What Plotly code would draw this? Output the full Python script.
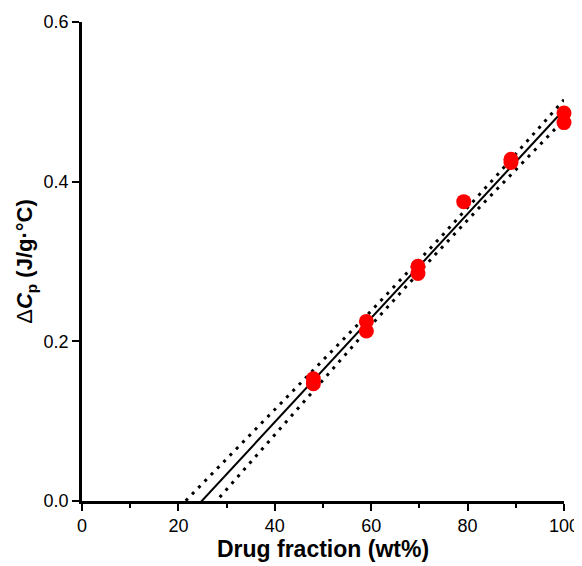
import numpy as np
import plotly.graph_objects as go

# measured points
drug_fraction = [48, 48, 59, 59, 69.7, 69.7, 79.2, 89, 89, 100, 100]
delta_cp = [0.153, 0.147, 0.225, 0.213, 0.294, 0.285, 0.375, 0.428, 0.424, 0.486, 0.474]

x_ticks = [0, 20, 40, 60, 80, 100]
y_ticks = [0.0, 0.2, 0.4, 0.6]

# linear fit with 95% confidence band
x = np.array(drug_fraction)
y = np.array(delta_cp)
n = len(x)
slope, intercept = np.polyfit(x, y, 1)
resid = y - (slope * x + intercept)
s = np.sqrt(np.sum(resid ** 2) / (n - 2))
sxx = np.sum((x - x.mean()) ** 2)
t_val = 2.262  # t(0.975, df=9)

xf = np.linspace(15, 100, 200)
yf = slope * xf + intercept
half = t_val * s * np.sqrt(1 / n + (xf - x.mean()) ** 2 / sxx)

fig = go.Figure()

fig.add_trace(go.Scatter(x=xf, y=yf + half, mode='lines',
                         line=dict(color='black', width=3, dash='3px,6px')))
fig.add_trace(go.Scatter(x=xf, y=yf - half, mode='lines',
                         line=dict(color='black', width=3, dash='3px,6px')))
fig.add_trace(go.Scatter(x=xf, y=yf, mode='lines',
                         line=dict(color='black', width=2)))

fig.add_trace(go.Scatter(
    x=drug_fraction, y=delta_cp, mode='markers',
    marker=dict(color='#ff0000', size=15),
    cliponaxis=False
))

font = 'Arial, Liberation Sans, sans-serif'

fig.update_layout(
    width=582, height=566,
    margin=dict(l=74, r=26, t=14, b=73),
    showlegend=False,
    plot_bgcolor='white',
    paper_bgcolor='white',
    font=dict(family=font, size=18, color='black'),
    xaxis=dict(
        range=[0, 100], tickvals=x_ticks, automargin=False,
        showgrid=False, zeroline=False,
        showline=True, linecolor='black', linewidth=2.5,
        ticks='outside', ticklen=7, tickwidth=2, tickcolor='black',
        minor=dict(dtick=10, tick0=0, ticks='outside', ticklen=4, tickwidth=2, tickcolor='black'),
        title=dict(text='<b>Drug fraction (wt%)</b>', font=dict(size=23), standoff=4),
    ),
    yaxis=dict(
        range=[0, 0.6], tickvals=y_ticks, tickformat='.1f', automargin=False,
        showgrid=False, zeroline=False,
        showline=True, linecolor='black', linewidth=2.5,
        ticks='outside', ticklen=7, tickwidth=2, tickcolor='black',
        title=dict(text='Δ<b><i>C</i><sub>p</sub> (J/g·°C)</b>', font=dict(size=22), standoff=5),
    ),
)

fig.write_html("out.html")
